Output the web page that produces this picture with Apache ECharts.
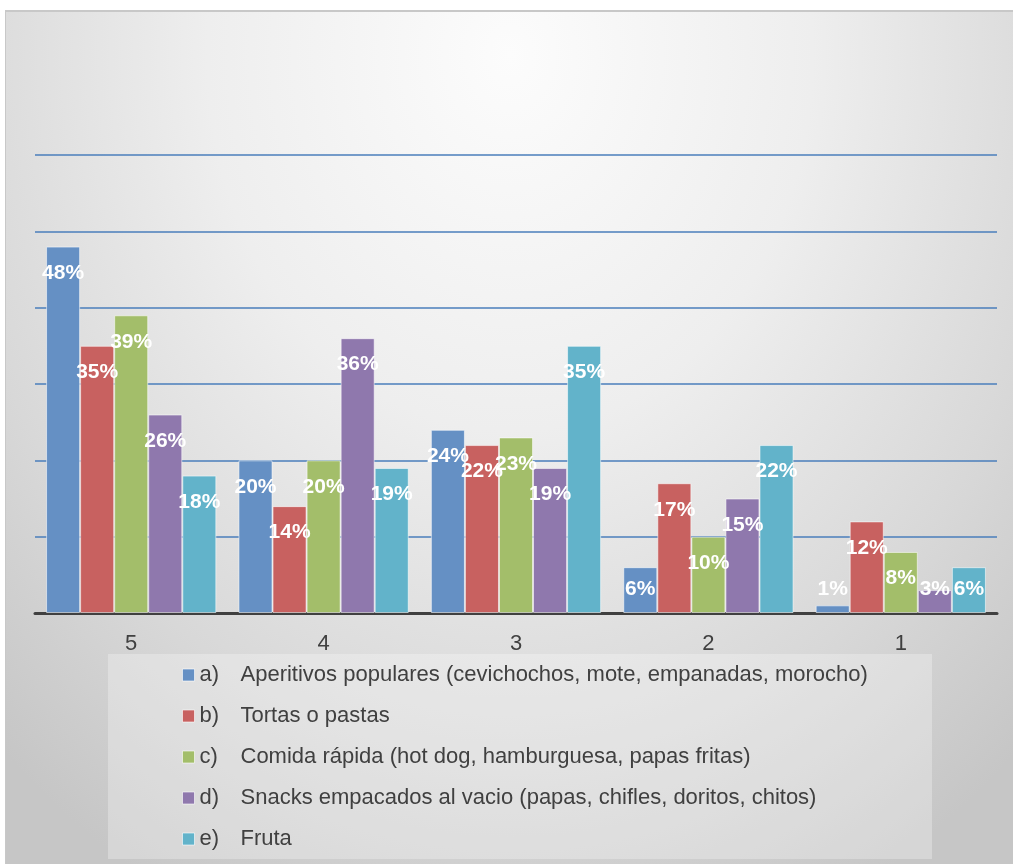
<!DOCTYPE html>
<html>
<head>
<meta charset="utf-8">
<script src="https://cdn.jsdelivr.net/npm/echarts@6/dist/echarts.min.js"></script>
<style>
html,body{margin:0;padding:0;background:#fff;}
#bg{position:absolute;left:5px;top:10px;width:1008px;height:854px;border-left:1px solid #c8c8c8;border-top:2px solid #c8c8c8;
background:radial-gradient(ellipse 75% 110% at 50% 5%, #fcfcfc 0%, #eeeeee 40%, #d8d8d8 75%, #c6c6c6 100%);}
#chart{position:absolute;left:0;top:0;width:1013px;height:864px;}
</style>
</head>
<body>
<div id="bg"></div>
<div id="chart"></div>
<script>
const categories = ['5', '4', '3', '2', '1'];
const letters = ['a)', 'b)', 'c)', 'd)', 'e)'];
const seriesNames = [
  'Aperitivos populares (cevichochos, mote, empanadas, morocho)',
  'Tortas o pastas',
  'Comida rápida (hot dog, hamburguesa, papas fritas)',
  'Snacks empacados al vacio (papas, chifles, doritos, chitos)',
  'Fruta'
];
const valuesA = [48, 20, 24, 6, 1];
const valuesB = [35, 14, 22, 17, 12];
const valuesC = [39, 20, 23, 10, 8];
const valuesD = [26, 36, 19, 15, 3];
const valuesE = [18, 19, 35, 22, 6];
const allValues = [valuesA, valuesB, valuesC, valuesD, valuesE];
const colors = ['#6590c4', '#c86160', '#a3be6a', '#8f78ad', '#62b3ca'];

const chart = echarts.init(document.getElementById('chart'), null, {renderer: 'canvas'});
const series = allValues.map((vals, i) => ({
  name: seriesNames[i],
  type: 'bar',
  barGap: '0%',
  barCategoryGap: '11.5%',
  itemStyle: {color: colors[i], borderColor: 'rgba(255,255,255,0.55)', borderWidth: 1},
  label: {
    show: true, position: 'insideTop', distance: 16,
    formatter: p => p.value + '%',
    color: '#ffffff', fontFamily: 'Liberation Sans', fontWeight: 'bold', fontSize: 21
  },
  data: vals.map(v => v < 7 ? {value: v, label: {position: 'insideBottom', distance: 13}} : v)
}));

chart.setOption({
  backgroundColor: 'transparent',
  animation: false,
  color: colors,
  grid: {left: 35, right: 16, top: 155, bottom: 251, containLabel: false},
  graphic: [{
    type: 'rect', left: 108, top: 654, z: -1,
    shape: {width: 824, height: 205},
    style: {fill: 'rgba(255,255,255,0.28)'}
  }],
  legend: {
    orient: 'vertical', left: 182, top: 664, padding: 0,
    itemWidth: 12, itemHeight: 12, itemGap: 19,
    icon: 'rect',
    itemStyle: {borderColor: 'rgba(255,255,255,0.6)', borderWidth: 1},
    formatter: name => '{l|' + letters[seriesNames.indexOf(name)] + '}{t|' + name + '}',
    textStyle: {
      fontFamily: 'Liberation Sans', fontSize: 22, color: '#404040', lineHeight: 22,
      rich: {
        l: {width: 41, fontFamily: 'Liberation Sans', fontSize: 22, color: '#404040', lineHeight: 22},
        t: {fontFamily: 'Liberation Sans', fontSize: 22, color: '#404040', lineHeight: 22}
      }
    }
  },
  xAxis: {
    type: 'category', data: categories,
    axisLine: {lineStyle: {color: '#404040', width: 3}},
    axisTick: {show: false},
    axisLabel: {fontFamily: 'Liberation Sans', fontSize: 22, color: '#404040', margin: 20}
  },
  yAxis: {
    type: 'value', min: 0, max: 60, interval: 10,
    axisLine: {show: false}, axisTick: {show: false}, axisLabel: {show: false},
    splitLine: {lineStyle: {color: '#4a7ebb', width: 1.5}}
  },
  series: series
});
</script>
</body>
</html>
